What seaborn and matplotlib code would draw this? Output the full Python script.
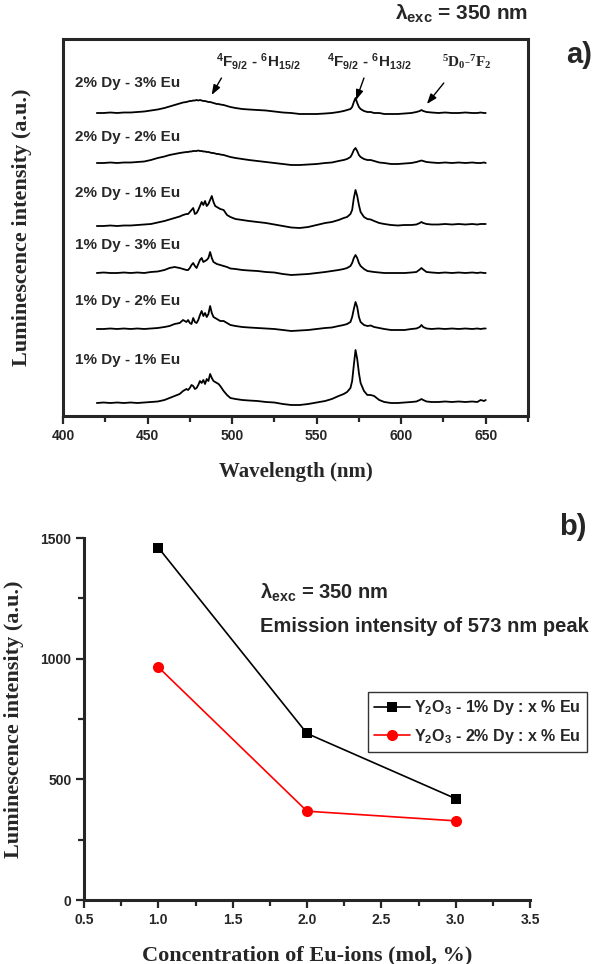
import numpy as np
import pandas as pd
import matplotlib
matplotlib.use('Agg')
import matplotlib.pyplot as plt
import seaborn as sns

sns.set_style("ticks")
plt.rcParams['font.family'] = ['Liberation Sans', 'DejaVu Sans']
plt.rcParams['font.weight'] = 'bold'
plt.rcParams['mathtext.fontset'] = 'custom'
plt.rcParams['mathtext.bf'] = 'Liberation Sans:bold'
plt.rcParams['mathtext.rm'] = 'Liberation Serif'
plt.rcParams['mathtext.sf'] = 'Liberation Sans'
plt.rcParams['mathtext.it'] = 'Liberation Sans:italic'
plt.rcParams['mathtext.default'] = 'bf'

# ---- panel a) emission spectra (intensity above baseline, a.u.) ----
wavelength = [420, 424, 428, 432, 436, 440, 444, 448, 452, 456,
              460, 463, 466, 469, 471, 473,
              474, 475, 476, 477, 478, 479, 480, 481, 482, 483, 484, 485, 486, 487, 488, 489, 490, 491, 492, 493,
              495, 497, 499, 502, 506, 510, 515, 520, 525, 530, 535, 540, 545, 550, 555, 559, 563, 566, 568, 570,
              571, 572, 573, 574, 575, 576,
              578, 580, 582, 584, 587, 590, 594, 598, 602, 606, 609, 611, 612, 613, 615, 618, 622, 626, 630, 634,
              638, 642, 645, 647, 649, 650]

dy2_eu3 = [0, 0, 0.5, 0, 0.5, 0.5, 1, 1.5, 2.5, 3.5,
           5, 6.5, 8, 9.5, 10.5, 11,
           11.5, 12, 12, 12.5, 12.5, 13, 12.5, 13, 12.5, 12, 12, 11.5, 11, 11, 10.5, 10, 9.5, 9, 9, 8.5,
           8, 7, 6, 5, 4, 3.5, 3, 2.5, 1.5, 0.5, 0, -1, -1, -1, -0.5, 0, 1, 2, 3, 4,
           6, 11, 15, 10, 6, 4,
           2, 1, 1, 0, 0, -1, -1, -1, -0.5, 0, 1, 2, 3, 2, 1, 0.5, 0, 0.5, 0, 0, 0.5, 0, 0, 0.5, 0, 0]
dy2_eu2 = [0, 0, 0.5, 0, 0.5, 0.5, 1, 1.5, 3, 5,
           6.5, 8, 9, 10, 10.5, 11,
           11, 11.5, 11.5, 12, 12, 12, 12.5, 12, 12, 11.5, 11.5, 11, 11, 10.5, 10, 10, 9.5, 9, 9, 8.5,
           8, 7, 6, 5, 4, 3, 2, 1, 0, -1, -2, -2, -1.5, -1, 0, 0.5, 2, 3, 4, 6,
           9, 13, 15, 12, 8, 6,
           4, 3, 3, 2, 0.5, 0, -1, -1, -0.5, 0, 1, 2, 2.5, 2, 1, 0.5, 0, 0.5, 0, 0.5, 0, 0.5, 0, 0, 0.5, 0]
dy2_eu1 = [0, 0, 0.5, 0, 0.5, 0.5, 1, 1.5, 2, 3.5,
           5, 6.5, 8, 9.5, 11, 12,
           12, 14, 16, 18, 12, 13, 16, 20, 24, 21, 25, 20, 22, 26, 30, 24, 20, 19, 18, 17,
           16, 11, 9, 7, 6, 5, 4, 3, 1.5, 0, -1.5, -2, -1, 1, 3, 4, 6, 8, 9, 12,
           16, 28, 36, 30, 21, 14,
           9, 7, 6.5, 5, 3, 2, 1, 0.5, 1, 1, 1.5, 3, 4, 3, 2, 1.5, 1.5, 2, 1.5, 2, 1.5, 2, 1.5, 2, 2, 2]
dy1_eu3 = [0, 0.5, 0, 0, 0.5, 0, 0.5, 0, 1, 1.5,
           3, 5, 6, 5, 4, 3,
           3, 5, 8, 10, 7, 5, 9, 13, 15, 11, 12, 13, 15, 21, 15, 11, 10, 9, 8.5, 8,
           7, 6, 4.5, 4, 3, 2.5, 2, 1, 0.5, -1, -2, -1.5, -1, 0, 1, 2, 3, 4, 5, 7,
           10, 15, 18, 15, 10, 7,
           4, 2, 1.5, 1, 0.5, 0, 0, 0, 0, 0.5, 1, 3.5, 5, 3.5, 1, 0.5, 0, 0.5, 0, 0.5, 0, 0.5, 0, 0.5, 0, 0]
dy1_eu2 = [0, 0, 0.5, 0, 0.5, 0, 0.5, 0, 0.5, 1,
           2, 3, 5, 6, 9, 7,
           9, 6, 5, 11, 7, 6, 9, 14, 18, 13, 16, 12, 15, 23, 16, 12, 11, 10, 9, 8,
           8, 6, 4, 3, 2, 1.5, 1, 0.5, 0, -1, -2, -1.5, -1, 0, 1, 1.5, 3, 4, 5, 7,
           12, 20, 27, 22, 12, 7,
           4, 3, 3.5, 2, 1, 0, -1, -1, -1, 0, 0.5, 2, 4, 2, 0.5, 0, 0.5, 0, 0.5, 0, 0.5, 0, 0.5, 0, 0.5, 0.5]
dy1_eu1 = [0, 0.5, 0, 0.5, 0, 0.5, 0, 0.5, 1, 1.5,
           3, 5, 7, 9, 12, 14,
           13, 15, 18, 17, 14, 15, 18, 22, 20, 23, 19, 24, 22, 29, 25, 22, 21, 20, 19, 17,
           12, 8, 5, 4, 3, 2.5, 2, 1, 0.5, -1, -2, -2, -1, 0.5, 2, 4, 7, 9, 11, 15,
           22, 38, 53, 44, 30, 20,
           12, 8, 8, 7, 3, 1, 0, 0, 0.5, 1, 1.5, 3, 4, 3, 1.5, 1, 1, 1.5, 1, 1.5, 1, 1.5, 1, 3, 2, 3]

sample_names = ['2% Dy - 3% Eu', '2% Dy - 2% Eu', '2% Dy - 1% Eu',
                '1% Dy - 3% Eu', '1% Dy - 2% Eu', '1% Dy - 1% Eu']
spectra = [dy2_eu3, dy2_eu2, dy2_eu1, dy1_eu3, dy1_eu2, dy1_eu1]
offsets = [303, 253, 190, 143, 87, 13]
label_y = [333, 279, 223, 171, 115, 56]

# ---- panel b) 573 nm peak intensity ----
eu_conc = [1, 2, 3]
dy1_573 = [1460, 690, 420]
dy2_573 = [965, 368, 328]

fig = plt.figure(figsize=(6, 9.64), dpi=100)
ax1 = fig.add_axes([63/600, 1-416/964, 465/600, 377/964])
ax2 = fig.add_axes([84/600, 1-900/964, 446/600, 362/964])

# top panel
for name, spec, off, ly in zip(sample_names, spectra, offsets, label_y):
    sns.lineplot(x=wavelength, y=np.array(spec) + off, ax=ax1, color='black',
                 linewidth=1.3, estimator=None, sort=False)
    ax1.text(407, ly, name, fontsize=11, fontweight='bold', va='center', ha='left')

ax1.set_xlim(400, 675)
ax1.set_ylim(0, 377)
ax1.set_yticks([])
ax1.set_xticks(range(400, 651, 50))
ax1.set_xticks(range(425, 676, 50), minor=True)
ax1.set_xlabel('Wavelength (nm)', family='Liberation Serif', fontsize=15, fontweight='bold', labelpad=14)
ax1.set_ylabel('Luminescence intensity (a.u.)', family='Liberation Serif', fontsize=16, fontweight='bold', labelpad=22)
for sp in ax1.spines.values():
    sp.set_linewidth(2.2)
ax1.tick_params(axis='x', which='major', length=6, width=1.6, labelsize=10, pad=3)
ax1.tick_params(axis='x', which='minor', length=4, width=1.6)

arrow = dict(arrowstyle='-|>,head_length=0.6,head_width=0.22', color='black', lw=1, shrinkA=0, shrinkB=0)
ax1.annotate('', xy=(487.9, 321), xytext=(493.7, 338), arrowprops=arrow)
ax1.annotate('', xy=(573.3, 316), xytext=(578, 338), arrowprops=arrow)
ax1.annotate('', xy=(615.2, 312), xytext=(625.2, 333), arrowprops=arrow)
ax1.text(490.5, 349, '$^{4}$F$_{9/2}$ - $^{6}$H$_{15/2}$', fontsize=11, fontweight='bold', ha='left', va='baseline')
ax1.text(556, 349, '$^{4}$F$_{9/2}$ - $^{6}$H$_{13/2}$', fontsize=11, fontweight='bold', ha='left', va='baseline')
ax1.text(624, 349, r'$\mathrm{{}^{5}D_{0}}$-$\mathrm{{}^{7}F_{2}}$', fontsize=11, family='Liberation Serif',
         ha='left', va='baseline')

fig.text(395/600, 1-14/964, r'λ$_{\mathsf{exc}}$ = 350 nm', fontsize=15, fontweight='bold', ha='left', va='center')
fig.text(579/600, 1-55/964, 'a)', fontsize=21, fontweight='bold', ha='center', va='center')
fig.text(573/600, 1-527/964, 'b)', fontsize=21, fontweight='bold', ha='center', va='center')

# bottom panel
sns.lineplot(x=eu_conc, y=dy1_573, ax=ax2, color='black', marker='s', markersize=7, markeredgewidth=0,
             linewidth=1.2, label='Y$_2$O$_3$ - 1% Dy : x % Eu')
sns.lineplot(x=eu_conc, y=dy2_573, ax=ax2, color='red', marker='o', markersize=8, markeredgewidth=0,
             linewidth=1.2, label='Y$_2$O$_3$ - 2% Dy : x % Eu')
ax2.set_xlim(0.5, 3.5)
ax2.set_ylim(0, 1500)
ax2.set_xticks(np.arange(0.5, 3.6, 0.5))
ax2.set_xticks(np.arange(0.75, 3.6, 0.5), minor=True)
ax2.set_yticks([0, 500, 1000, 1500])
ax2.set_yticks([250, 750, 1250], minor=True)
ax2.xaxis.set_major_formatter(plt.FormatStrFormatter('%.1f'))
sns.despine(ax=ax2)
for side in ['left', 'bottom']:
    ax2.spines[side].set_linewidth(2.2)
ax2.tick_params(which='major', length=6, width=1.6, labelsize=10, pad=3)
ax2.tick_params(which='minor', length=4, width=1.6)
ax2.set_xlabel('Concentration of Eu-ions (mol, %)', family='Liberation Serif', fontsize=16,
               fontweight='bold', labelpad=14)
ax2.set_ylabel('Luminescence intensity (a.u.)', family='Liberation Serif', fontsize=16,
               fontweight='bold', labelpad=12)
ax2.text(1.684, 1272, r'λ$_{\mathsf{exc}}$ = 350 nm', fontsize=14.5, fontweight='bold', va='center')
ax2.text(1.684, 1135, 'Emission intensity of 573 nm peak', fontsize=14.5, fontweight='bold', va='center')
leg = ax2.legend(loc='upper left', bbox_to_anchor=((360-84)/446, (900-684)/362), fontsize=11.5,
                 frameon=True, fancybox=False, handlelength=2.2, handletextpad=0.3, borderpad=0.4,
                 labelspacing=0.6)
leg.get_frame().set_edgecolor('black')
leg.get_frame().set_linewidth(1)
for t in leg.get_texts():
    t.set_fontweight('bold')

fig.savefig('out.png', dpi=100)
